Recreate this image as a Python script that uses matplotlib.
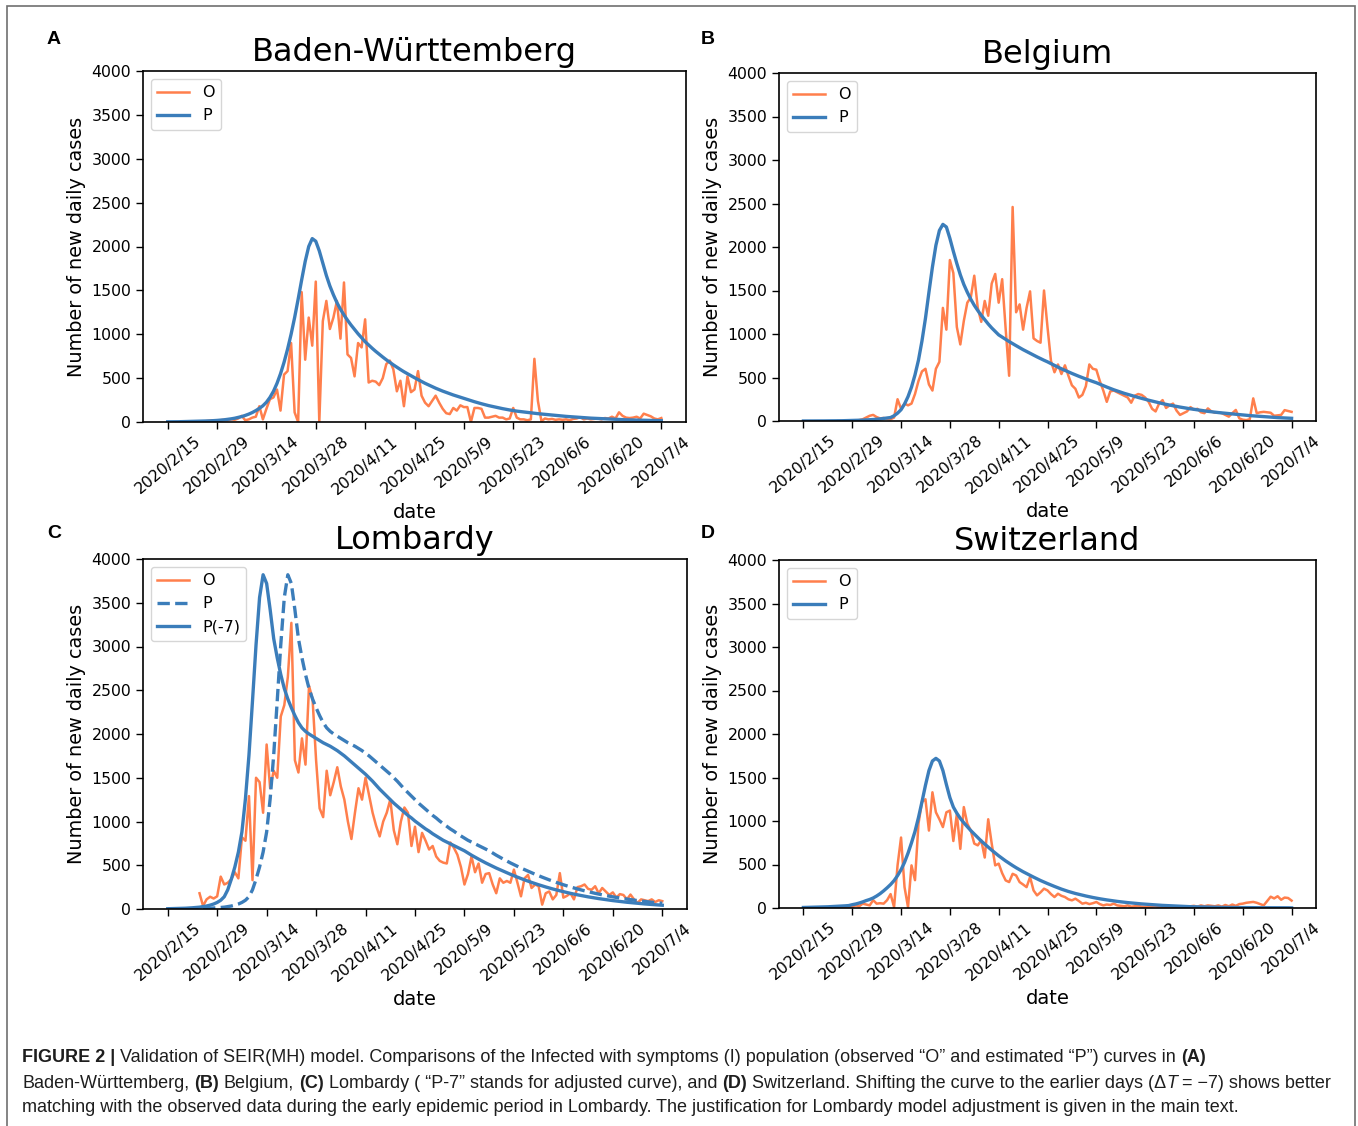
import matplotlib
matplotlib.use("Agg")
import matplotlib.pyplot as plt
import numpy as np
import pandas as pd

# ---------------------------------------------------------------- data
days = pd.date_range("2020-02-15", "2020-07-04", freq="D")   # 141 days
tick_days = days[::14]
tick_labels = [f"{d.year}/{d.month}/{d.day}" for d in tick_days]

# Baden-Wuerttemberg: observed from day 10, predicted from day 0
bw_obs_start = 10
bw_obs = [
    5, 10, 15, 20, 15, 20, 25, 20, 30, 25,
    40, 70, 20, 30, 50, 60, 180, 30, 150, 260,
    280, 370, 130, 540, 580, 900, 110, 0, 1480, 710,
    1190, 870, 1600, 0, 1150, 1380, 1060, 1190, 1380, 950,
    1590, 770, 730, 520, 900, 850, 1170, 450, 470, 460,
    420, 500, 660, 700, 600, 350, 470, 180, 520, 340,
    370, 580, 300, 220, 180, 240, 300, 220, 150, 100,
    90, 160, 130, 190, 170, 170, 0, 160, 160, 150,
    50, 50, 60, 70, 50, 50, 30, 40, 160, 50,
    30, 30, 20, 30, 720, 240, 10, 40, 30, 35,
    25, 30, 25, 30, 20, 35, 40, 55, 30, 40,
    30, 35, 40, 30, 45, 40, 60, 40, 110, 70,
    50, 45, 50, 60, 40, 95, 80, 65, 40, 30, 45,
]
bw_pred = [
    2, 2, 3, 3, 4, 4, 5, 6, 7, 8,
    9, 11, 13, 15, 18, 21, 25, 30, 36, 43,
    52, 62, 75, 90, 108, 130, 155, 185, 225, 280,
    350, 440, 550, 680, 830, 1000, 1190, 1400, 1620, 1830,
    2000, 2090, 2060, 1950, 1810, 1670, 1550, 1450, 1360, 1285,
    1220, 1160, 1105, 1055, 1005, 960, 915, 877, 840, 805,
    772, 740, 709, 680, 651, 624, 598, 573, 550, 527,
    505, 483, 462, 441, 422, 403, 385, 368, 352, 337,
    322, 308, 295, 282, 270, 256, 243, 231, 219, 208,
    197, 187, 178, 169, 160, 152, 144, 137, 130, 124,
    119, 114, 109, 104, 100, 95, 91, 87, 83, 80,
    76, 72, 68, 64, 61, 58, 55, 52, 49, 46,
    44, 42, 40, 38, 36, 34, 32, 30, 28, 27,
    25, 24, 23, 22, 21, 20, 19, 18, 17, 16, 15,
]

# Belgium
be_obs_start = 10
be_obs = [
    0, 1, 2, 0, 2, 5, 10, 20, 40, 60,
    70, 45, 30, 35, 25, 20, 40, 250, 140, 200,
    180, 200, 310, 460, 570, 600, 420, 350, 600, 680,
    1300, 1050, 1850, 1700, 1080, 880, 1150, 1360, 1420, 1670,
    1300, 1140, 1380, 1210, 1580, 1690, 1360, 1630, 1060, 520,
    2460, 1250, 1340, 1050, 1300, 1490, 950, 920, 900, 1500,
    1080, 690, 560, 650, 540, 640, 520, 410, 370, 270,
    300, 400, 650, 600, 590, 460, 350, 220, 340, 350,
    330, 310, 290, 270, 210, 290, 310, 300, 270, 220,
    140, 110, 200, 240, 150, 180, 200, 120, 70, 90,
    110, 160, 130, 140, 100, 90, 145, 110, 95, 100,
    90, 70, 50, 90, 127, 30, 15, 10, 20, 260,
    90, 100, 105, 100, 95, 60, 65, 70, 125, 115, 105,
]
be_pred = [
    0, 0, 0, 1, 1, 1, 1, 2, 2, 2,
    3, 3, 4, 5, 6, 7, 8, 10, 12, 14,
    17, 20, 24, 29, 34, 40, 60, 90, 130, 195,
    280, 390, 530, 700, 920, 1180, 1480, 1770, 2020, 2190,
    2260, 2230, 2100, 1950, 1810, 1680, 1570, 1480, 1400, 1330,
    1270, 1215, 1165, 1115, 1070, 1030, 990, 964, 938, 913,
    889, 866, 843, 820, 799, 777, 757, 737, 717, 698,
    680, 659, 639, 619, 600, 582, 564, 547, 530, 514,
    498, 483, 468, 454, 440, 423, 406, 390, 374, 359,
    345, 331, 318, 306, 294, 282, 271, 260, 250, 239,
    229, 219, 209, 200, 191, 183, 175, 167, 160, 153,
    146, 140, 134, 128, 122, 117, 111, 106, 101, 97,
    93, 88, 84, 81, 77, 73, 70, 66, 62, 59,
    55, 52, 49, 47, 44, 41, 39, 37, 35, 33, 31,
]

# Lombardy: prediction given for days 0..147, P(-7) is the same curve 7 days earlier
lo_obs_start = 9
lo_obs = [
    180,
    35, 110, 140, 120, 145, 370, 280, 300, 340, 420,
    350, 820, 780, 1290, 330, 1500, 1450, 1100, 1880, 1380,
    1580, 1500, 2200, 2330, 2650, 3270, 1700, 1560, 1950, 1650,
    2550, 2400, 1700, 1150, 1050, 1580, 1300, 1450, 1620, 1400,
    1250, 1000, 800, 1100, 1380, 1250, 1500, 1300, 1100, 950,
    830, 1000, 1100, 1250, 900, 740, 1000, 1160, 1100, 720,
    940, 650, 870, 780, 680, 720, 600, 550, 530, 520,
    760, 700, 620, 480, 280, 400, 600, 420, 520, 300,
    400, 410, 280, 180, 350, 300, 320, 300, 450, 300,
    145, 350, 390, 240, 280, 260, 50, 180, 200, 110,
    160, 410, 130, 150, 180, 110, 250, 260, 280, 230,
    220, 260, 180, 240, 200, 160, 190, 130, 170, 160,
    110, 165, 110, 70, 110, 100, 90, 110, 80, 100, 90,
]
lo_pred = [
    0, 0, 0, 1, 1, 1, 2,
    3, 4, 5, 6, 7, 9, 11, 14, 17, 21,
    27, 34, 44, 57, 75, 100, 140, 220, 340, 480,
    650, 880, 1260, 1760, 2380, 3020, 3560, 3820, 3720, 3420,
    3090, 2870, 2680, 2520, 2400, 2300, 2210, 2130, 2070, 2030,
    2000, 1975, 1950, 1925, 1900, 1880, 1860, 1835, 1810, 1780,
    1750, 1715, 1680, 1645, 1610, 1575, 1540, 1500, 1460, 1415,
    1370, 1330, 1290, 1250, 1210, 1175, 1140, 1105, 1070, 1040,
    1005, 975, 945, 915, 890, 860, 835, 810, 785, 765,
    745, 725, 705, 685, 665, 640, 615, 592, 570, 548,
    527, 507, 487, 468, 450, 432, 414, 397, 380, 364,
    348, 333, 318, 304, 290, 277, 264, 252, 240, 229,
    218, 208, 198, 188, 179, 170, 162, 154, 146, 139,
    132, 125, 119, 113, 107, 101, 96, 91, 86, 81,
    77, 73, 69, 65, 62, 58, 55, 52, 49, 46, 43,
]
lo_shift = 7

# Switzerland
ch_obs_start = 10
ch_obs = [
    0, 2, 5, 8, 10, 30, 20, 50, 40, 30,
    90, 50, 55, 50, 90, 160, 10, 490, 810, 240,
    10, 490, 320, 970, 1220, 1250, 890, 1330, 1100, 1020,
    930, 1100, 1120, 770, 1080, 680, 1160, 970, 890, 740,
    720, 780, 580, 1020, 740, 490, 510, 400, 317, 298,
    393, 374, 298, 270, 240, 355, 202, 145, 180, 222,
    202, 160, 126, 164, 140, 126, 100, 88, 107, 80,
    50, 60, 45, 55, 69, 45, 30, 40, 35, 50,
    30, 25, 20, 30, 15, 20, 25, 15, 12, 10,
    15, 20, 8, 5, 10, 5, 8, 10, 5, 15,
    10, 20, 25, 15, 30, 20, 30, 25, 20, 30,
    15, 35, 20, 40, 25, 45, 50, 60, 65, 70,
    60, 45, 30, 80, 130, 110, 135, 95, 120, 115, 85,
]
ch_pred = [
    6, 7, 8, 9, 10, 11, 12, 14, 16, 18,
    20, 22, 25, 28, 38, 46, 57, 70, 85, 98,
    115, 138, 165, 197, 232, 270, 315, 372, 440, 525,
    630, 750, 880, 1040, 1220, 1410, 1580, 1690, 1720, 1690,
    1580, 1420, 1270, 1160, 1090, 1030, 980, 935, 890, 850,
    810, 770, 735, 700, 665, 632, 600, 570, 541, 514,
    488, 463, 440, 417, 396, 375, 355, 335, 316, 298,
    281, 264, 248, 232, 217, 203, 190, 178, 167, 157,
    147, 138, 129, 121, 113, 106, 99, 93, 87, 81,
    76, 71, 66, 62, 58, 54, 50, 47, 44, 41,
    38, 35, 33, 30, 28, 26, 24, 22, 20, 18,
    17, 15, 14, 13, 12, 11, 10, 9, 9, 8,
    7, 7, 6, 6, 5, 5, 5, 4, 4, 4,
    3, 3, 3, 3, 2, 2, 2, 2, 2, 2, 1,
]

ORANGE = "#ff7f4c"
BLUE = "#3b7dba"
W, H = 1358, 1126


def padded(start, values):
    arr = np.full(len(days), np.nan)
    arr[start:start + len(values)] = values
    return arr


def px_axes(fig, left, top, right, bottom):
    return fig.add_axes([left / W, 1 - bottom / H, (right - left) / W, (bottom - top) / H])


def style_panel(ax, title):
    ax.set_ylim(0, 4000)
    ax.set_yticks(np.arange(0, 4001, 500))
    ax.set_xticks(tick_days)
    ax.set_xticklabels(tick_labels, rotation=40)
    ax.tick_params(labelsize=11.3, width=1.0, length=5)
    for sp in ax.spines.values():
        sp.set_linewidth(1.2)
    ax.set_title(title, fontsize=23, pad=7)
    ax.set_xlabel("date", fontsize=14)
    ax.set_ylabel("Number of new daily cases", fontsize=13.9)
    ax.legend(loc="upper left", fontsize=11.5)


fig = plt.figure(figsize=(W / 100, H / 100), dpi=100)

# A
ax = px_axes(fig, 143, 71, 686, 422)
ax.plot(days, padded(bw_obs_start, bw_obs), color=ORANGE, lw=1.8, label="O")
ax.plot(days, bw_pred, color=BLUE, lw=2.4, label="P")
style_panel(ax, "Baden-Württemberg")

# B
ax = px_axes(fig, 779, 73, 1316, 421)
ax.plot(days, padded(be_obs_start, be_obs), color=ORANGE, lw=1.8, label="O")
ax.plot(days, be_pred, color=BLUE, lw=2.4, label="P")
style_panel(ax, "Belgium")

# C
ax = px_axes(fig, 143, 559, 687, 909)
n = len(days)
ax.plot(days, padded(lo_obs_start, lo_obs), color=ORANGE, lw=1.8, label="O")
ax.plot(days, lo_pred[:n], color=BLUE, lw=2.4, ls="--", label="P")
ax.plot(days, lo_pred[lo_shift:lo_shift + n], color=BLUE, lw=2.4, label="P(-7)")
style_panel(ax, "Lombardy")

# D
ax = px_axes(fig, 779, 560, 1316, 908)
ax.plot(days, padded(ch_obs_start, ch_obs), color=ORANGE, lw=1.8, label="O")
ax.plot(days, ch_pred, color=BLUE, lw=2.4, label="P")
style_panel(ax, "Switzerland")

# panel letters
for letter, (lx, ly) in zip("ABCD", [(54, 40), (708, 40), (54, 533), (708, 533)]):
    fig.text(lx / W, 1 - ly / H, letter, fontsize=14, fontweight="bold",
             family=["Liberation Sans", "DejaVu Sans"], ha="center", va="center")

# outer frame (bottom edge is cut off by the page)
frame = plt.Rectangle((7 / W, -0.05), (1355 - 7) / W, 1.05 - 6 / H,
                      transform=fig.transFigure, fill=False, ec="#6f6f6f", lw=1.2)
fig.add_artist(frame)

# caption, laid out run by run so bold / italic pieces can be mixed
CAP_FONT = ["Liberation Sans", "DejaVu Sans"]
CAP_SIZE = 13.0
CAP_COLOR = "#1e1e1e"
caption_lines = [
    [("FIGURE 2 |", "bold", "normal"),
     (" Validation of SEIR(MH) model. Comparisons of the Infected with symptoms (I) "
      "population (observed \u201cO\u201d and estimated \u201cP\u201d) curves in ", "normal", "normal"),
     ("(A)", "bold", "normal")],
    [("Baden-W\u00fcrttemberg, ", "normal", "normal"), ("(B)", "bold", "normal"),
     (" Belgium, ", "normal", "normal"), ("(C)", "bold", "normal"),
     (" Lombardy ( \u201cP-7\u201d stands for adjusted curve), and ", "normal", "normal"),
     ("(D)", "bold", "normal"),
     (" Switzerland. Shifting the curve to the earlier days (\u0394", "normal", "normal"),
     ("T", "normal", "italic"),
     (" = \u22127) shows better", "normal", "normal")],
    [("matching with the observed data during the early epidemic period in Lombardy. "
      "The justification for Lombardy model adjustment is given in the main text.",
      "normal", "normal")],
]
caption_y = [1057, 1083, 1108]

renderer = fig.canvas.get_renderer()


def text_width(s, weight="normal", style="normal"):
    t = fig.text(0, 0, s, fontsize=CAP_SIZE, fontweight=weight, fontstyle=style, family=CAP_FONT)
    w = t.get_window_extent(renderer=renderer).width
    t.remove()
    return w


space_w = text_width("a a") - text_width("aa")

for runs, y in zip(caption_lines, caption_y):
    x = 22.0
    for s, weight, style in runs:
        lead = len(s) - len(s.lstrip(" "))
        trail = len(s) - len(s.rstrip(" "))
        core = s.strip(" ")
        x += lead * space_w
        t = fig.text(x / W, 1 - y / H, core, fontsize=CAP_SIZE, fontweight=weight,
                     fontstyle=style, family=CAP_FONT, color=CAP_COLOR, va="center", ha="left")
        x += t.get_window_extent(renderer=renderer).width + trail * space_w

fig.savefig("out.png", dpi=100)
